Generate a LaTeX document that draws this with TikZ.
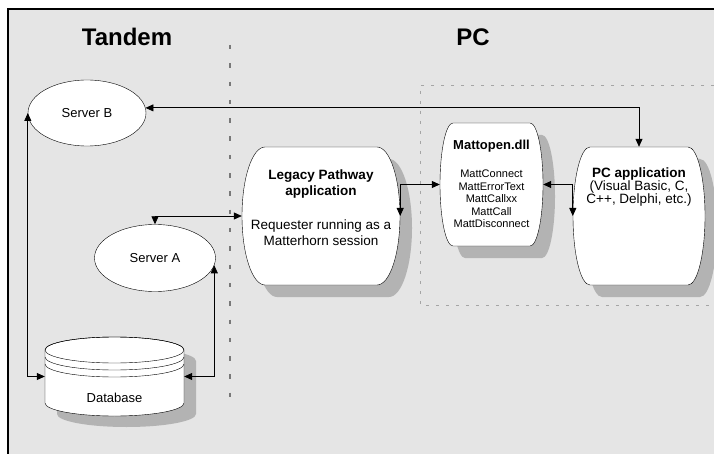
\documentclass[tikz,border=0pt]{standalone}
\usepackage{fontspec}
\setmainfont{Liberation Sans}
\usetikzlibrary{arrows.meta,shapes.geometric}

\definecolor{panelgrey}{RGB}{229,229,229}
\definecolor{shadegrey}{RGB}{179,179,179}
\definecolor{sepgrey}{RGB}{120,120,120}
\definecolor{boxgrey}{RGB}{165,165,165}

% barrel box: name, centre x, centre y, half width, half height, bulge
\newcommand{\barrelbox}[6]{%
  \fill[shadegrey,xshift=12pt,yshift=-12pt] ({#2-#4+#6},{#3-#5}) -- ({#2+#4-#6},{#3-#5})
    arc[start angle=90,end angle=-90,x radius=#6pt,y radius=#5pt] -- ({#2-#4+#6},{#3+#5})
    arc[start angle=270,end angle=90,x radius=#6pt,y radius=#5pt] -- cycle;
  \draw[thin,fill=white] ({#2-#4+#6},{#3-#5}) -- ({#2+#4-#6},{#3-#5})
    arc[start angle=90,end angle=-90,x radius=#6pt,y radius=#5pt] -- ({#2-#4+#6},{#3+#5})
    arc[start angle=270,end angle=90,x radius=#6pt,y radius=#5pt] -- cycle;
  \node[boxarea,minimum width={2*#4pt},minimum height={2*#5pt}] (#1) at (#2,#3) {};
}

\begin{document}
\begin{tikzpicture}[x=1pt,y=-1pt,>={Triangle[length=8pt,width=7pt]}]
        \tikzstyle{server}=[ellipse,draw,thin,fill=white,inner sep=0pt,font=\fontsize{13}{15}\selectfont]
        \tikzstyle{link}=[<->,line width=0.8pt]
        \tikzstyle{side}=[inner sep=0pt,font=\fontsize{24}{28}\selectfont\bfseries]
        \tikzstyle{boxarea}=[inner sep=0pt]
        \tikzstyle{boxtext}=[align=center,inner sep=0pt,font=\fontsize{13.5}{16}\selectfont]

        \useasboundingbox (0,0) rectangle (714,454);
        \fill[panelgrey] (8,9) rectangle (714,454);
        \draw[line width=1.6pt] (8,454) -- (8,9) -- (714,9);

        \node[side] (tandem) at (127,37) {Tandem};
        \node[side] (pcside) at (473,37) {PC};

        % split line and PC region
        \draw[sepgrey,line width=2.8pt,dash pattern=on 4.5pt off 13.8pt] (230,45) -- (230,405);
        \draw[boxgrey,line width=0.9pt,dash pattern=on 3pt off 7pt] (714,85) -| (420,305) -- (714,305);

       \begin{scope}
         \node [server,minimum width=118pt,minimum height=66pt] (sb) at (87,113) {Server B};
         \node [server,minimum width=121pt,minimum height=67pt] (sa) at (155,258) {Server A};

         % database
         \fill[shadegrey] (57,361) -- (57,414) arc[start angle=180,end angle=360,x radius=69.5pt,y radius=13pt]
           -- (196,361) arc[start angle=0,end angle=180,x radius=69.5pt,y radius=13pt] -- cycle;
         \draw[thin,fill=white] (45,350) -- (45,403) arc[start angle=180,end angle=360,x radius=69.5pt,y radius=13pt]
           -- (184,350) arc[start angle=0,end angle=180,x radius=69.5pt,y radius=13pt] -- cycle;
         \draw[thin] (114.5,350) ellipse[x radius=69.5pt,y radius=13pt];
         \draw[thin] (45,357) arc[start angle=180,end angle=360,x radius=69.5pt,y radius=13pt];
         \draw[thin] (45,364) arc[start angle=180,end angle=360,x radius=69.5pt,y radius=13pt];
         \node [boxarea,minimum width=139pt,minimum height=53pt] (db) at (114.5,376.5) {};
         \node [boxtext,font=\fontsize{13}{15}\selectfont] (dbtext) at (114.5,398) {Database};

         \barrelbox{lp}{321}{216}{79}{69}{23}
         \barrelbox{mo}{491.5}{184.5}{51.5}{61.5}{13}
         \barrelbox{pc}{639}{216}{66}{69}{17}

         \node [boxtext] (lptext) at (321,208) {\textbf{Legacy Pathway}\\ \textbf{application}\\[18pt] Requester running as a\\ Matterhorn session};
         \node [boxtext,font=\fontsize{11}{12.5}\selectfont] (motext) at (491.5,184) {{\fontsize{13}{15}\selectfont\bfseries Mattopen.dll}\\[15.5pt] MattConnect\\ MattErrorText\\ MattCallxx\\ MattCall\\ MattDisconnect};
         \node [boxtext,font=\fontsize{13.5}{13}\selectfont] (pctext) at (639,187) {\textbf{PC application}\\ (Visual Basic, C,\\ C++, Delphi, etc.)};

         \draw[link] (sb.5) -| (pc.north);
         \draw[link] (sb.west) |- (db.west);
         \draw[link] (sa.north) |- (lp.west);
         \draw[link] (sa.-7) |- (db.east);
         \draw[link] (lp.east) |- (mo.west);
         \draw[link] (mo.east) -| (pc.west);
       \end{scope}
\end{tikzpicture}
\end{document}
